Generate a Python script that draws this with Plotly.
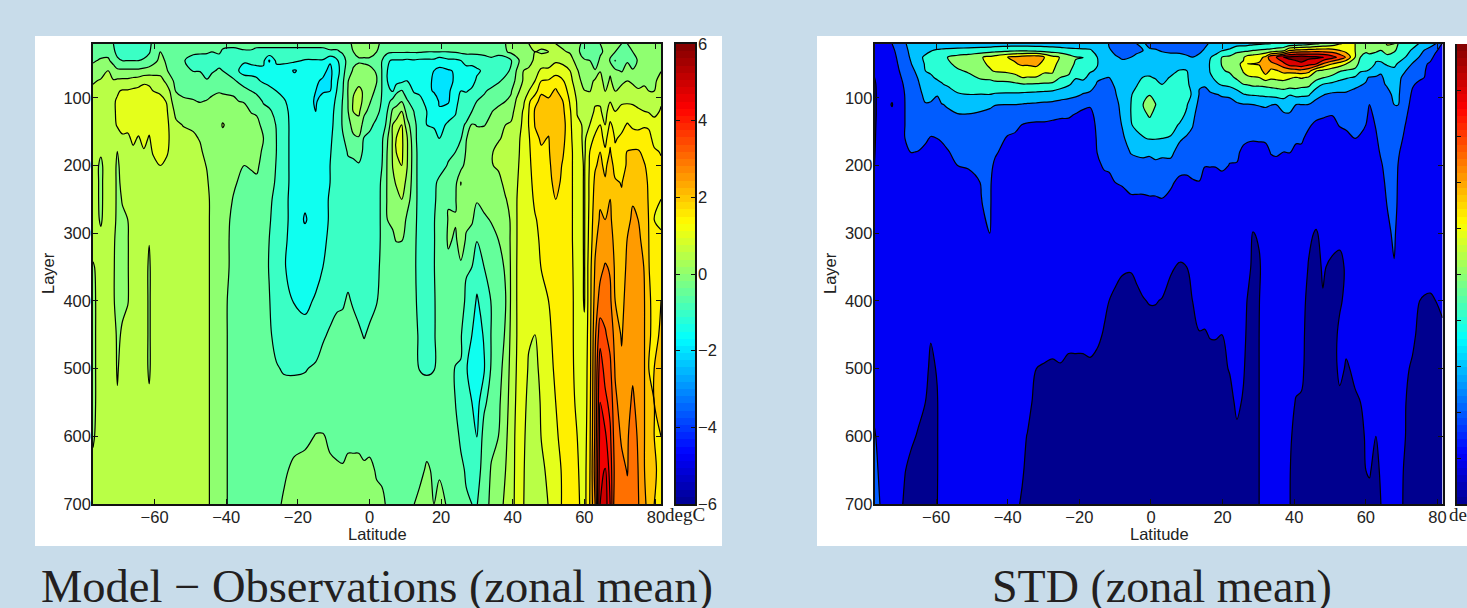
import plotly.graph_objects as go

W, H = 1467, 608

# ---------- left panel: Model - Observations (deg C) ----------
layer_a = [20,32,45,60,75,90,105,120,140,160,180,200,225,250,280,310,350,400,450,500,550,600,650,700]
lat_a = [-77.2,-75,-73,-71.5,-70.4,-69,-67.5,-66,-64.5,-63,-61.5,-60.4,-58.4,-56.6,-54,-52,-49.2,-47.3,-45.4,-44,-42,-41,-38,-35,-33,-31.5,-29.6,-28,-26,-24,-21,-18,-15,-13,-11,-9,-7.5,-6,-4.5,-3,-1.5,0,2,3.5,5,6.5,7.5,9,10.5,12.5,14,16,18,19.5,22,24,25.5,27,28.6,30,32,34,36,38,39.5,41,43,44.5,46.2,48,50,52,54,56,58,60,61.5,63,64.4,65.8,67.2,68.6,70.4,72,73.5,75,76.8,78,79.5,81.4]
z_a_cols = [
[-.2,-.15,-.05,.15,.45,.6,.65,.65,.7,.7,.7,.7,.7,.7,.7,.7,.45,.4,.4,.4,.4,.45,.6,.7],
[-.2,-.15,.05,.3,.55,.65,.7,.7,.75,.75,.55,.42,.42,.42,.45,.6,.7,.7,.7,.7,.7,.7,.7,.7],
[-.1,-.1,.05,.5,.7,.8,.85,.9,.9,.85,.8,.75,.75,.75,.75,.75,.75,.75,.75,.75,.75,.75,.75,.75],
[-.5,-.4,-.1,.15,.55,.8,.95,.95,.95,.9,.75,.7,.7,.7,.65,.55,.53,.53,.7,.72,.75,.75,.75,.75],
[-.7,-.65,-.4,.1,.6,.95,1.05,1.05,1.02,.9,.48,.4,.4,.4,.4,.4,.4,.4,.42,.45,.55,.7,.72,.75],
[-.7,-.65,-.5,.1,.62,1.05,1.15,1.15,1.1,.95,.8,.7,.6,.52,.45,.42,.42,.42,.55,.7,.72,.75,.75,.75],
[-.7,-.65,-.5,.1,.62,1.05,1.2,1.2,1.15,.9,.8,.75,.75,.7,.5,.47,.47,.47,.7,.75,.75,.75,.75,.75],
[-.75,-.7,-.5,.1,.7,1.1,1.2,1.2,1.2,1.1,.9,.8,.75,.75,.75,.75,.75,.75,.75,.75,.75,.75,.75,.75],
[-.75,-.7,-.5,.1,.75,1.15,1.25,1.25,1.2,.95,.85,.8,.75,.75,.75,.75,.75,.75,.75,.75,.75,.75,.75,.75],
[-.75,-.65,-.45,.15,.9,1.2,1.25,1.25,1.2,1.15,.95,.85,.75,.75,.75,.75,.75,.75,.75,.75,.75,.75,.75,.75],
[-.6,-.55,-.3,.2,.9,1.1,1.2,1.25,1.15,.95,.85,.8,.75,.7,.7,.52,.42,.42,.42,.42,.6,.7,.75,.75],
[-.4,-.3,-.15,.25,.8,1.0,1.15,1.25,1.25,1.2,1.05,.85,.75,.75,.75,.75,.75,.75,.75,.75,.75,.75,.75,.75],
[-.05,.0,.1,.3,.7,.95,1.1,1.2,1.25,1.2,1.15,1.0,.8,.75,.75,.75,.75,.75,.75,.75,.75,.75,.75,.75],
[-.1,-.1,-.05,.02,.35,.75,.98,1.05,1.1,1.1,1.05,.9,.75,.75,.75,.75,.75,.75,.75,.75,.75,.75,.75,.75],
[-.15,-.15,-.2,-.2,-.15,-.02,.1,.35,.6,.7,.7,.7,.7,.7,.7,.7,.7,.7,.7,.7,.7,.7,.7,.7],
[-.2,-.4,-.48,-.3,-.2,-.08,.05,.3,.48,.65,.7,.7,.7,.7,.7,.7,.7,.7,.7,.7,.7,.7,.7,.7],
[-.3,-.45,-.6,-.52,-.3,-.1,.02,.25,.45,.55,.65,.7,.7,.7,.7,.7,.7,.7,.7,.7,.7,.7,.7,.7],
[-.3,-.45,-.65,-.52,-.3,-.12,-.02,.15,.35,.48,.55,.62,.7,.7,.7,.7,.7,.7,.7,.7,.7,.7,.7,.7],
[-.3,-.45,-.7,-.6,-.48,-.15,.02,.15,.3,.35,.4,.48,.55,.65,.65,.65,.65,.65,.65,.65,.65,.65,.65,.65],
[-.3,-.5,-.7,-.55,-.35,-.05,.05,.15,.25,.3,.3,.3,.35,.35,.35,.35,.35,.35,.35,.35,.35,.35,.35,.35],
[-.3,-.45,-.65,-.45,-.2,-.02,.1,.2,.3,.35,.35,.3,.3,.3,.3,.3,.3,.3,.3,.3,.3,.3,.3,.3],
[-.4,-.55,-.75,-.5,-.3,-.02,.05,.2,.55,.3,.3,.25,.2,.2,.2,.15,.15,.15,.15,.15,.15,.15,.15,.15],
[-.4,-.6,-1.0,-.85,-.4,-.02,.02,.12,.2,.2,.15,.1,.05,-.02,-.1,-.1,-.1,-.2,-.2,-.2,-.2,-.2,-.2,-.2],
[-.35,-.55,-.95,-1.15,-.8,-.3,-.02,.1,.2,.2,.12,.0,-.1,-.15,-.2,-.2,-.2,-.2,-.2,-.2,-.2,-.2,-.2,-.2],
[-.35,-.55,-.9,-1.15,-.85,-.5,-.25,-.02,.15,.2,.15,.02,-.05,-.2,-.2,-.2,-.2,-.2,-.2,-.2,-.2,-.2,-.2,-.2],
[-.4,-.6,-.9,-1.1,-.95,-.6,-.3,-.05,.1,.15,.1,.05,-.05,-.2,-.2,-.25,-.3,-.3,-.3,-.3,-.2,-.2,-.2,-.2],
[-.4,-.6,-.9,-1.1,-1.05,-.8,-.55,-.35,-.1,0,-.05,-.1,-.2,-.25,-.3,-.35,-.35,-.35,-.3,-.25,-.2,-.2,-.2,-.2],
[-.4,-.6,-1.55,-1.2,-1.1,-.9,-.6,-.45,-.3,-.25,-.25,-.3,-.35,-.4,-.45,-.5,-.52,-.48,-.4,-.3,-.2,-.2,-.2,-.15],
[-.4,-.6,-.9,-1.2,-1.15,-1.0,-.8,-.6,-.52,-.5,-.5,-.52,-.55,-.65,-.7,-.7,-.7,-.7,-.7,-.45,-.25,-.2,-.1,-.1],
[-.4,-.6,-.9,-1.2,-1.2,-1.1,-.95,-.85,-.8,-.8,-.8,-.8,-.8,-.85,-.85,-.9,-.95,-.85,-.7,-.55,-.25,-.2,-.08,.05],
[-.4,-.6,-.9,-1.55,-1.3,-1.25,-1.2,-1.2,-1.2,-1.2,-1.2,-1.2,-1.2,-1.2,-1.2,-1.2,-1.2,-1.02,-.85,-.55,-.3,-.15,.1,.2],
[-.4,-.6,-1.05,-1.3,-1.35,-1.35,-1.3,-1.3,-1.3,-1.3,-1.3,-1.3,-1.35,-1.4,-1.55,-1.3,-1.25,-1.1,-.85,-.52,-.35,-.1,.15,.2],
[-.4,-.6,-1.05,-1.35,-1.45,-1.5,-1.55,-1.5,-1.3,-1.3,-1.3,-1.25,-1.25,-1.25,-1.25,-1.2,-1.15,-.95,-.7,-.45,-.25,.02,.15,.2],
[-.4,-.6,-1.05,-1.4,-1.55,-1.55,-1.3,-1.25,-1.2,-1.2,-1.2,-1.2,-1.2,-1.15,-1.15,-1.1,-1.0,-.85,-.55,-.35,-.2,.02,.15,.2],
[-.35,-.55,-1.45,-1.6,-1.6,-1.5,-1.2,-1.15,-1.1,-1.05,-1.02,-1,-1,-.95,-.95,-.9,-.85,-.65,-.45,-.3,-.15,-.05,.05,.15],
[-.35,-.55,-1.05,-1.2,-1.05,-.95,-.9,-.85,-.85,-.85,-.85,-.85,-.85,-.85,-.8,-.8,-.75,-.55,-.4,-.3,-.15,-.05,.02,.12],
[-.3,-.45,-.7,-.7,-.6,-.55,-.48,-.45,-.45,-.55,-.6,-.65,-.7,-.7,-.7,-.7,-.7,-.55,-.35,-.25,-.15,-.08,.02,.12],
[-.15,-.3,-.35,-.2,-.02,.02,.0,-.02,-.2,-.35,-.48,-.55,-.65,-.7,-.7,-.7,-.65,-.45,-.4,-.25,-.15,-.05,.05,.12],
[.1,0,-.1,.05,.3,.45,.55,.52,.2,-.1,-.45,-.55,-.65,-.7,-.7,-.7,-.7,-.55,-.35,-.25,-.15,-.05,.05,.12],
[.25,.1,-.05,.15,.4,.58,.65,.6,.3,-.05,-.3,-.55,-.65,-.7,-.7,-.7,-.7,-.6,-.45,-.3,-.15,-.05,.05,.15],
[.3,.1,-.05,.1,.3,.45,.4,.1,-.2,-.55,-.6,-.65,-.7,-.7,-.7,-.7,-.7,-.65,-.52,-.35,-.15,-.05,.02,.12],
[.3,.1,-.05,.05,.25,.2,.05,-.1,-.4,-.6,-.65,-.65,-.7,-.7,-.7,-.7,-.7,-.6,-.45,-.3,-.2,-.08,.05,.12],
[.1,0,-.05,-.02,.02,-.1,-.25,-.4,-.6,-.7,-.7,-.7,-.7,-.7,-.7,-.7,-.6,-.52,-.35,-.2,-.15,-.05,-.02,.05],
[-.1,-.25,-.5,-.52,-.52,-.52,-.55,-.6,-.6,-.58,-.55,-.5,-.42,-.4,-.4,-.4,-.4,-.35,-.25,-.18,-.12,-.08,-.03,.03],
[-.2,-.4,-.95,-1.0,-1.0,-.85,-.7,-.5,-.45,-.05,.03,.05,.05,.05,.0,-.1,-.2,-.2,-.2,-.15,-.1,-.08,-.05,-.02],
[-.2,-.45,-1.05,-1.2,-1.2,-1.05,-.3,.1,.52,.55,.55,.52,.4,.2,.05,-.05,-.2,-.2,-.2,-.15,-.1,-.08,-.05,-.02],
[-.2,-.45,-1.05,-1.25,-1.2,-.6,-.2,.2,.7,1.02,1.02,.7,.55,.35,.2,.02,-.3,-.25,-.2,-.15,-.1,-.08,-.05,-.02],
[-.2,-.45,-1.05,-1.25,-1.1,-.45,-.02,.5,1.0,1.1,1.1,1.0,.7,.5,.3,.02,-.25,-.25,-.2,-.15,-.1,-.08,-.05,-.02],
[-.2,-.45,-1.1,-1.15,-1.0,-.75,-.45,-.2,.2,.55,.55,.52,.4,.2,-.1,-.3,-.35,-.3,-.25,-.2,-.15,-.1,-.05,0],
[-.2,-.45,-1.05,-1.3,-1.2,-1.05,-.75,-.52,-.42,-.4,-.3,-.3,-.3,-.3,-.35,-.4,-.42,-.4,-.3,-.2,-.15,-.1,-.05,0],
[-.2,-.45,-1.1,-1.3,-1.2,-1.1,-.85,-.7,-.65,-.65,-.7,-.7,-.7,-.7,-.7,-.7,-.7,-.65,-.6,-.52,-.3,-.2,-.1,.1],
[-.2,-.5,-1.1,-1.4,-1.4,-1.35,-1.15,-1.0,-1.0,-.85,-.75,-.75,-.75,-.75,-.75,-.75,-.75,-.7,-.65,-.55,-.3,-.15,.05,.1],
[-.2,-.5,-1.1,-1.5,-1.55,-1.55,-1.2,-1.1,-1.05,-.85,-.7,-.65,-.55,-.55,-.52,-.52,-.52,-.55,-.55,-.52,-.3,-.15,-.05,0],
[-.2,-.5,-1.3,-1.6,-1.7,-1.6,-1.55,-1.45,-1.2,-1.0,-.75,-.6,-.45,-.4,-.35,-.35,-.3,-.3,-.3,-.3,-.2,-.1,-.02,.05],
[-.2,-.5,-1.1,-1.55,-1.7,-1.6,-1.55,-1.3,-.9,-.7,-.55,-.48,-.02,-.02,.02,.05,-.1,-.2,-.2,-.25,-.2,-.15,-.1,-.02],
[-.15,-.45,-1.1,-1.45,-1.4,-1.2,-1.15,-1.05,-.85,-.65,-.5,-.35,-.15,-.05,.03,-.05,-.2,-.25,-.4,-.52,-.5,-.35,-.25,-.15],
[-.15,-.4,-1.0,-1.3,-1.2,-1.0,-.85,-.7,-.6,-.52,-.4,-.2,.51,.45,.2,.15,-.05,-.25,-.45,-.52,-.55,-.58,-.4,-.3],
[-.15,-.35,-.9,-1.1,-1.15,-1.02,-.85,-.7,-.45,-.02,.05,.2,.25,.2,.05,-.03,-.45,-.6,-.85,-.98,-.9,-.7,-.55,-.45],
[-.15,-.35,-.9,-1.1,-1.1,-.95,-.7,-.5,.05,.2,.3,.3,.3,.2,.03,-.1,-.5,-.8,-1.0,-1.1,-1.0,-.85,-.65,-.5],
[-.15,-.35,-.85,-1.05,-.95,-.8,-.5,-.3,-.02,.15,.3,.35,.3,.02,-.1,-.48,-.8,-1.05,-1.25,-1.35,-1.2,-1.02,-.75,-.52],
[-.15,-.3,-.8,-.95,-.85,-.55,-.4,-.1,-.02,.2,.35,.35,.3,.1,-.05,-.2,-.5,-.8,-.95,-1.05,-.6,-.3,-.25,-.2],
[-.1,-.25,-.65,-.85,-.7,-.4,-.3,-.02,.1,.2,.45,.48,.3,.1,.02,-.1,-.3,-.48,-.48,-.45,-.3,-.1,.03,.1],
[-.05,-.2,-.95,-1,-.55,-.3,-.1,.1,.2,.45,.65,.55,.4,.2,.05,0,-.15,-.25,-.25,-.2,-.1,0,.2,.4],
[0,-.05,-.85,-.6,-.4,-.2,0,.3,.5,.6,.7,.65,.6,.48,.3,.25,.05,-.02,.05,.2,.3,.4,.5,.55],
[.1,.1,-.55,-.45,-.25,-.05,.1,.35,.55,.65,.75,.75,.72,.6,.55,.55,.55,.55,.6,.65,.7,.75,.8,.85],
[.2,.25,-.2,0,.1,.35,.55,.65,.75,.8,.85,.9,.95,.98,.98,.98,.98,.98,.98,1,1.05,1.1,1.1,1.1],
[.4,.3,.3,.5,.55,.7,.9,1.05,1.1,1.2,1.2,1.2,1.2,1.2,1.2,1.2,1.3,1.3,1.25,1.2,1.15,1.1,1.05,1.02],
[.5,.45,.4,.55,.8,1.0,1.4,1.5,1.52,1.45,1.4,1.35,1.3,1.25,1.2,1.15,1.15,1.1,1.05,.95,.85,.75,.7,.7],
[.6,.5,.55,.8,1.0,1.25,1.9,2.05,2.02,1.9,1.85,1.8,1.7,1.6,1.45,1.35,1.25,1.1,1.0,.9,.8,.7,.65,.6],
[.6,.45,.7,1.1,1.5,1.95,2.1,2.15,2.15,2.05,1.95,1.9,1.8,1.7,1.65,1.6,1.52,1.35,1.2,1.1,1.05,1.02,.9,.75],
[.55,.5,.75,1.1,1.55,1.9,2.05,2.15,2.1,1.98,1.95,1.9,1.85,1.8,1.75,1.7,1.6,1.5,1.4,1.3,1.2,1.15,1.1,1.02],
[.5,.55,.95,1.2,1.85,2.05,2.2,2.25,2.3,2.3,2.3,2.25,2.15,2.0,1.9,1.85,1.8,1.7,1.65,1.6,1.5,1.45,1.35,1.3],
[.4,.55,.9,1.15,1.55,1.8,2.0,2.1,2.2,2.15,2.05,1.95,1.9,1.8,1.75,1.7,1.7,1.7,1.65,1.6,1.6,1.6,1.55,1.55],
[.3,.45,.7,1.0,1.15,1.3,1.45,1.55,1.6,1.6,1.6,1.6,1.6,1.6,1.6,1.6,1.6,1.6,1.6,1.6,1.6,1.6,1.6,1.55],
[.1,.05,.3,.55,.7,.85,.95,.98,1.05,1.2,1.3,1.3,1.3,1.3,1.3,1.3,1.35,1.38,1.38,1.4,1.45,1.5,1.55,1.6],
[-.1,-.1,.02,.15,.3,.52,.7,.85,.97,.9,.9,.95,.95,.95,.95,.95,.95,.95,1.1,1.2,1.2,1.25,1.3,1.3],
[-.2,-.15,.0,.15,.3,.48,.65,.85,1.0,1.3,1.5,1.55,1.6,1.6,1.65,1.7,1.8,1.8,1.8,1.8,1.85,1.9,1.95,2.0],
[-.2,-.25,-.15,.02,.6,.8,.95,1.05,1.3,1.6,1.7,1.95,2.1,2.2,2.3,2.4,2.55,2.7,2.9,3.0,3.05,3.1,3.2,3.0],
[0,-.05,.05,.48,.65,.85,.95,1.05,1.5,1.75,2.0,2.1,2.3,2.45,2.55,2.7,2.85,3.2,3.8,4.3,4.5,4.7,4.8,5.0],
[.05,.05,.1,.2,.35,.48,.65,.85,1.0,1.3,1.6,1.9,2.05,2.25,2.5,2.7,3.05,3.3,3.55,3.8,4.15,4.6,5.05,5.3],
[.1,.05,-.02,.45,.55,.75,.98,1.2,1.6,1.9,2.05,2.2,2.35,2.5,2.6,2.75,2.95,3.1,3.35,3.6,3.85,4.1,4.3,4.5],
[.05,0,-.52,.1,.35,.48,.75,1.0,1.3,1.45,1.6,1.85,2.05,2.1,2.2,2.3,2.4,2.5,2.8,2.95,3.1,3.2,3.3,3.1],
[0,-.05,-.15,-.05,.4,.65,.95,1.1,1.35,1.6,1.75,1.85,1.98,2.05,2.05,2.15,2.25,2.35,2.45,2.6,2.8,2.95,3.1,3.2],
[0,0,-.05,.2,.5,.75,.95,1.15,1.55,1.85,2.02,2.05,2.15,2.25,2.35,2.52,2.6,2.7,2.8,2.85,2.9,2.95,2.98,3.1],
[.05,0,-.1,.02,.45,.6,.95,1.1,1.4,1.75,2.05,2.2,2.3,2.45,2.6,2.65,2.7,2.8,2.9,2.95,3.05,3.2,3.2,3.2],
[.1,.1,.02,.15,.35,.55,.9,1.05,1.35,1.75,2.05,2.15,2.25,2.4,2.5,2.6,2.65,2.7,2.8,2.85,2.9,2.95,3.0,3.05],
[.15,.2,.2,.25,.4,.6,.85,1.0,1.45,1.7,1.9,2.02,2.1,2.2,2.3,2.35,2.48,2.5,2.5,2.5,2.5,2.5,2.5,2.55],
[.2,.2,.25,.3,.4,.5,.7,.95,1.45,1.6,1.8,1.9,1.95,1.95,1.98,2.0,2.02,2.1,2.05,2.0,2.1,2.2,2.3,2.4],
[.25,.25,.25,.3,.4,.5,.7,.85,1.2,1.4,1.55,1.6,1.55,1.55,1.5,1.55,1.7,1.8,1.9,2.0,2.0,2.0,2.05,2.0],
[.25,.25,.3,.48,.7,.85,.95,1.05,1.25,1.4,1.48,1.55,1.52,1.5,1.45,1.55,1.7,2.0,2.05,2.05,2.02,2,1.9,1.5],
]

# ---------- right panel: STD (contour level units) ----------
layer_b = [20,30,40,50,60,70,80,95,110,125,140,160,180,200,225,260,300,350,400,450,500,550,600,650,700]
lat_b = [-77.2,-75.5,-72.3,-70.5,-68.7,-67,-65,-63,-61.5,-59.7,-58.5,-56.8,-54,-51,-47.4,-45,-43.5,-40,-38,-36,-34.5,-32,-29.8,-27.5,-25.3,-23,-21,-19,-17,-15,-13,-11.7,-10,-8,-5.6,-4,-2.2,-.4,1.2,3.1,5.5,8,10,11.6,13.5,15,16.5,18,19.8,22,24,25.8,27,28.5,30.2,32,33.5,35,37,38.7,40.5,42,44,46.1,48,50.6,52.7,54.5,57,58.5,60,61,62.8,64.2,65.9,67.9,69,71.2,73,75,76.3,78,79.5,81.4]
z_b_cols = [
[1.4,1.4,1.4,1.3,1.2,1.0,.85,.8,.8,.8,.85,.9,.95,1.0,1.1,1.2,1.3,1.4,1.4,1.3,1.3,1.7,2.1,2.4,2.8],
[1.5,1.5,1.5,1.5,1.5,1.5,1.5,1.5,1.5,1.5,1.5,1.5,1.5,1.5,1.5,1.5,1.5,1.5,1.5,1.5,1.5,1.5,1.6,1.7,1.9],
[2.0,1.8,1.7,1.6,1.5,1.4,1.3,1.2,.95,1.2,1.4,1.45,1.5,1.5,1.5,1.5,1.5,1.5,1.5,1.5,1.5,1.5,1.5,1.5,1.5],
[2.4,2.3,2.15,2.05,1.95,1.85,1.75,1.6,1.5,1.45,1.4,1.4,1.4,1.4,1.4,1.4,1.4,1.4,1.4,1.4,1.4,1.4,1.4,1.4,1.2],
[2.95,2.8,2.7,2.5,2.35,2.2,2.1,2.02,2.0,2.0,2.0,2.0,1.6,1.5,1.5,1.45,1.45,1.4,1.4,1.4,1.35,1.3,1.2,1.02,.9],
[3.2,3.2,3.1,2.97,2.75,2.6,2.45,2.3,2.25,2.2,2.2,2.2,2.02,1.75,1.6,1.5,1.45,1.4,1.4,1.35,1.3,1.2,1.1,.85,.8],
[3.4,3.6,3.75,3.45,3.25,3.05,2.9,2.75,2.6,2.5,2.4,2.25,1.98,1.8,1.6,1.5,1.45,1.4,1.4,1.35,1.2,1.15,.95,.85,.8],
[3.5,3.75,4.15,4.1,4.0,3.7,3.5,3.2,2.95,2.75,2.55,2.1,1.85,1.7,1.65,1.5,1.45,1.4,1.4,1.3,1.2,1.0,.85,.8,.75],
[3.5,3.95,4.3,4.25,4.1,3.9,3.55,3.25,2.9,2.6,2.3,1.95,1.8,1.7,1.6,1.5,1.45,1.35,1.2,1.05,.85,.8,.8,.8,.8],
[3.45,4.1,4.4,4.35,4.3,4.1,3.8,3.05,2.75,2.55,2.3,2,1.75,1.65,1.6,1.5,1.45,1.4,1.35,1.3,1.05,.95,.95,.95,.98],
[3.45,4.15,4.6,4.55,4.35,4.15,3.95,3.4,2.95,2.65,2.4,2.05,1.85,1.7,1.6,1.5,1.5,1.45,1.45,1.4,1.4,1.35,1.35,1.35,1.35],
[3.45,4.2,5.0,4.85,4.6,4.3,4.1,3.6,3.1,2.8,2.5,2.2,1.95,1.75,1.6,1.5,1.5,1.45,1.4,1.4,1.4,1.4,1.4,1.4,1.4],
[3.5,4.25,5.3,5.2,4.9,4.5,4.25,3.95,3.4,2.95,2.75,2.45,2.2,2.0,1.8,1.6,1.5,1.45,1.4,1.4,1.4,1.4,1.4,1.4,1.4],
[3.5,4.3,5.5,5.5,5.1,4.8,4.5,4.0,3.5,2.95,2.7,2.5,2.25,2.05,1.8,1.6,1.5,1.45,1.4,1.4,1.4,1.4,1.4,1.4,1.4],
[3.5,4.4,5.95,5.8,5.5,5.1,4.7,3.98,3.2,2.9,2.75,2.55,2.35,2.2,2.02,1.98,1.7,1.5,1.45,1.4,1.4,1.4,1.4,1.4,1.4],
[3.5,4.5,6.2,6.15,5.9,5.1,4.8,4.0,3.1,2.85,2.7,2.55,2.35,2.2,2.1,2.1,2.0,1.6,1.5,1.45,1.4,1.3,1.2,1.15,1.1],
[3.55,4.6,6.4,6.3,6.1,5.3,4.75,3.9,3.02,2.75,2.6,2.4,2.1,1.85,1.7,1.6,1.5,1.4,1.35,1.35,1.3,1.2,1.15,1.1,1.1],
[3.55,4.7,7.0,6.6,6.3,5.3,4.8,3.85,3.0,2.7,2.35,1.9,1.7,1.6,1.5,1.45,1.4,1.4,1.35,1.3,1.2,1.2,1.15,1.15,1.15],
[3.55,4.8,7.2,6.9,6.55,5.5,4.85,3.85,3.0,2.45,2.2,1.85,1.65,1.55,1.5,1.45,1.4,1.4,1.35,1.3,1.2,1.2,1.15,1.15,1.1],
[3.55,4.8,7.4,7.15,6.5,6.0,4.95,3.8,2.95,2.5,1.98,1.7,1.55,1.5,1.45,1.4,1.4,1.35,1.3,1.25,1.2,1.15,1.1,1.05,.95],
[3.55,4.8,7.5,7.1,6.6,5.95,4.95,3.75,2.9,2.4,1.9,1.6,1.5,1.45,1.4,1.4,1.35,1.3,1.25,1.2,1.2,1.15,.98,.9,.85],
[3.55,4.7,7.6,7.3,6.5,5.95,4.9,3.7,2.85,2.35,1.85,1.6,1.5,1.45,1.4,1.4,1.35,1.3,1.25,1.1,1.0,.85,.8,.75,.7],
[3.55,4.6,7.0,6.6,6.15,5.7,4.85,3.65,2.8,2.35,1.85,1.6,1.5,1.45,1.4,1.4,1.35,1.3,1.2,1.1,.98,.85,.8,.75,.7],
[3.55,4.5,6.3,6.3,6.1,5.8,4.75,3.6,2.75,2.3,1.75,1.55,1.5,1.45,1.4,1.4,1.35,1.3,1.2,1.05,.98,.85,.8,.75,.7],
[3.5,4.4,5.95,5.7,5.4,5.0,4.4,3.5,2.6,2.15,1.75,1.6,1.5,1.45,1.4,1.35,1.3,1.25,1.2,1.1,.98,.85,.8,.75,.7],
[3.5,4.25,5.4,5.3,5.15,4.9,4.1,3.35,2.5,2.1,1.8,1.6,1.5,1.45,1.4,1.35,1.3,1.25,1.2,1.1,.92,.8,.75,.7,.7],
[3.5,4.2,5.05,4.9,4.65,4.05,3.75,3.2,2.35,1.95,1.75,1.6,1.5,1.45,1.4,1.35,1.3,1.25,1.2,1.1,.92,.8,.75,.7,.7],
[3.5,4.15,5.05,4.75,4.55,4.25,3.6,2.95,2.1,1.9,1.7,1.55,1.5,1.45,1.4,1.35,1.3,1.25,1.2,1.1,.92,.8,.75,.7,.7],
[3.5,4.1,4.4,4.25,4.1,3.7,3.5,2.8,2.1,1.75,1.55,1.45,1.45,1.4,1.4,1.35,1.3,1.25,1.2,1.1,.95,.8,.75,.7,.7],
[3.4,3.7,4.0,4.05,3.9,3.15,2.9,2.6,2.4,2.3,2.2,2.1,2.02,1.85,1.6,1.5,1.4,1.3,1.2,1.1,.85,.8,.75,.7,.7],
[3.4,3.4,3.4,3.4,3.3,3.02,2.85,2.6,2.45,2.35,2.3,2.25,2.2,2.1,1.75,1.55,1.4,1.25,1.1,.95,.8,.75,.7,.7,.7],
[2.95,3.05,3.2,3.2,3.1,3.0,2.9,2.7,2.55,2.45,2.4,2.3,2.25,2.1,1.85,1.6,1.4,1.2,1.0,.85,.8,.75,.7,.7,.7],
[2.8,2.9,3.05,3.2,3.1,3.1,3.05,2.95,2.8,2.7,2.6,2.5,2.4,2.2,2.0,1.75,1.5,1.15,.9,.8,.75,.7,.7,.7,.7],
[2.75,2.8,2.95,3.1,3.2,3.3,3.3,3.3,3.2,3.15,3.05,2.85,2.65,2.4,2.05,1.75,1.45,1.05,.85,.8,.75,.7,.7,.7,.7],
[2.9,2.9,3.0,3.2,3.45,3.6,3.85,3.95,4.0,4.0,3.95,3.4,3.05,2.7,2.2,1.8,1.4,1.03,.85,.8,.75,.7,.7,.7,.7],
[3,2.95,3.05,3.3,3.55,3.75,3.95,4.2,4.25,4.25,4.2,3.75,3.1,2.8,2.15,1.85,1.45,1.1,.9,.8,.75,.7,.7,.7,.7],
[3.1,3,3.2,3.4,3.75,4.02,4.25,4.7,5.0,4.7,4.3,3.95,3.15,2.8,2.2,1.8,1.5,1.15,.98,.85,.75,.7,.7,.7,.7],
[2.8,3.1,3.3,3.5,3.8,4.05,4.3,4.95,5.5,5.15,4.6,4.05,3.1,2.8,2.2,1.85,1.5,1.2,1.02,.85,.75,.7,.7,.7,.7],
[2.8,3.05,3.3,3.5,3.75,3.95,4.2,4.7,5.05,4.7,4.4,4.05,3.2,2.85,2.2,1.85,1.5,1.2,1.02,.85,.75,.7,.7,.7,.7],
[2.7,2.95,3.2,3.4,3.65,3.8,4.0,4.25,4.3,4.3,4.25,4.0,3.15,2.8,2.2,1.9,1.55,1.2,.98,.85,.75,.7,.7,.7,.7],
[2.7,2.9,3.15,3.4,3.8,4.05,4.2,4.4,4.4,4.3,4.2,3.95,3.25,2.7,2.1,1.75,1.4,1.05,.85,.8,.75,.7,.7,.7,.7],
[2.7,2.85,3.2,3.6,4.05,4.25,4.35,4.4,4.35,4.2,3.95,3.15,2.6,2.25,1.85,1.6,1.3,.95,.8,.75,.7,.7,.7,.7,.7],
[2.65,2.75,3.1,3.5,4.02,4.15,4.2,4.15,4.05,3.9,3.5,2.85,2.5,2.2,1.85,1.6,1.35,1.0,.85,.8,.7,.7,.7,.7,.7],
[2.6,2.7,3.0,3.2,3.35,3.5,3.65,3.95,3.6,3.25,3.05,2.75,2.4,2.2,1.95,1.7,1.4,1.1,1.0,.85,.75,.7,.7,.7,.7],
[2.7,2.9,3.1,3.1,3.1,3.1,3.05,2.95,2.7,2.55,2.45,2.35,2.25,2.2,1.98,1.75,1.45,1.25,1.15,.98,.85,.75,.7,.7,.7],
[2.9,3.05,3.2,3.2,3.15,3.1,3.05,2.85,2.6,2.5,2.4,2.3,2.2,2.02,1.8,1.6,1.45,1.3,1.15,.97,.85,.75,.7,.7,.7],
[3.05,3.4,3.95,4.1,4.05,3.85,3.45,2.85,2.55,2.4,2.3,2.25,2.15,2.02,1.8,1.6,1.45,1.3,1.1,1.02,.85,.75,.7,.7,.7],
[3.2,3.7,4.2,4.5,4.3,4.15,3.85,2.95,2.55,2.4,2.3,2.2,2.1,2.02,1.8,1.6,1.4,1.25,1.05,1.02,.88,.75,.7,.7,.7],
[3.4,3.95,5.0,5.05,4.9,4.65,4.1,3.1,2.65,2.45,2.35,2.25,2.15,2.1,1.8,1.6,1.4,1.2,1.02,1.0,.9,.8,.7,.7,.7],
[3.5,4.15,5.2,5.5,5.15,4.7,4.3,3.05,2.9,2.6,2.45,2.3,2.1,1.98,1.75,1.55,1.4,1.25,1.15,1.1,1.03,.85,.8,.75,.7],
[3.55,4.8,5.4,5.9,5.6,5.2,4.5,3.6,2.85,2.6,2.5,2.3,2.15,1.95,1.7,1.5,1.4,1.3,1.2,1.15,1.1,1.1,.9,.85,.8],
[3.6,4.8,5.9,6.1,6.05,5.85,5.0,3.95,2.95,2.65,2.5,2.2,1.8,1.7,1.6,1.5,1.4,1.3,1.25,1.2,1.05,.95,.85,.8,.75],
[3.7,4.8,6.4,7.05,6.3,5.9,5.05,4.05,2.95,2.65,2.4,2.1,1.75,1.6,1.5,1.4,1.3,1.2,.95,.85,.85,.8,.75,.7,.7],
[3.8,5.0,6.5,7.02,6.4,5.95,5.2,4.1,3.0,2.7,2.3,2.05,1.8,1.65,1.5,1.3,.97,.85,.85,.8,.75,.7,.7,.7,.7],
[3.85,5.1,6.7,7.1,6.5,6.0,5.2,4.15,3.05,2.7,2.3,2.05,1.85,1.7,1.55,1.3,1.1,.9,.98,1.0,1.0,1.0,1.0,1.0,1.0],
[3.95,5.2,7.2,8.0,7.5,6.6,5.25,4.25,3.1,2.75,2.45,2.05,1.9,1.8,1.7,1.6,1.5,1.4,1.35,1.3,1.3,1.3,1.3,1.3,1.3],
[4.0,5.3,8.8,7.6,6.8,6.2,5.35,4.3,3.02,2.7,2.45,2.2,2.02,1.9,1.75,1.65,1.55,1.5,1.45,1.4,1.35,1.3,1.25,1.2,1.15],
[4.05,5.5,9.0,8.0,6.9,6.3,5.4,4.4,3.0,2.95,2.5,2.3,2.05,1.9,1.75,1.65,1.6,1.5,1.45,1.4,1.35,1.3,1.25,1.2,1.15],
[4.1,5.7,10.0,8.7,7.3,6.4,5.5,4.5,3.3,2.9,2.5,2.3,2.0,1.9,1.75,1.65,1.6,1.5,1.4,1.35,1.3,1.25,1.2,1.15,1.1],
[4.2,7.0,10.2,9.5,7.4,6.1,5.6,4.05,3.4,2.9,2.55,2.3,2.02,1.85,1.7,1.6,1.5,1.3,1.25,1.2,1.15,1.1,1.05,1.02,1.02],
[4.3,7.2,10.4,9.6,7.6,5.95,5.5,4.3,3.0,2.8,2.55,2.1,1.85,1.7,1.6,1.5,1.45,1.4,1.3,1.2,1.1,.98,.9,.85,.8],
[4.4,7.3,10.5,9.8,7.7,6.1,5.35,4.25,3.0,2.75,2.5,2.1,1.85,1.7,1.6,1.5,1.4,1.3,1.2,1.15,1.1,.95,.8,.8,.8],
[4.6,7.4,10.3,9.3,7.4,5.9,5.25,4.15,2.98,2.6,2.1,1.8,1.7,1.6,1.5,1.3,1.1,.97,.85,.8,.8,.8,.8,.8,.8],
[4.9,7.5,10.2,9.0,6.05,5.35,4.5,3.3,2.7,2.2,1.85,1.7,1.6,1.5,1.4,1.3,.95,.85,.8,.8,.8,.8,.8,.8,.8],
[5.1,7.5,10.05,7.9,5.8,5.05,4.0,3.05,2.6,2.1,1.8,1.7,1.6,1.5,1.4,1.3,1.15,1.05,.97,.85,.8,.8,.8,.8,.8],
[5.4,7.4,9.4,7.0,5.4,4.8,3.75,2.85,2.5,2.02,1.8,1.7,1.6,1.5,1.4,1.3,1.2,.9,.9,.9,.9,.85,.8,.8,.8],
[5.95,7.0,8.7,6.5,5.1,4.3,3.6,2.85,2.5,2.2,2.05,1.7,1.6,1.5,1.4,1.3,1.1,.9,.97,1.05,1.05,.95,.85,.8,.8],
[6.1,6.6,7.9,6.0,4.9,4.1,3.5,2.85,2.45,2.3,2.1,1.85,1.7,1.6,1.5,1.3,1.1,1.05,1.05,1.05,.98,.95,.85,.8,.8],
[6.0,6.0,6.0,5.5,4.7,3.9,3.2,2.7,2.5,2.3,2.15,2.0,1.85,1.7,1.5,1.3,1.15,1.1,1.1,1.03,1.03,.98,.85,.8,.7],
[5.5,5.3,5.0,4.6,4.1,3.5,3.05,2.7,2.5,2.25,2.1,1.95,1.8,1.65,1.5,1.3,1.2,1.15,1.15,1.1,1.05,1.0,.95,.85,.8],
[5.3,5.05,4.9,4.6,4.05,3.1,2.95,2.6,2.3,2.15,2.0,1.85,1.75,1.6,1.5,1.3,1.25,1.2,1.2,1.1,1.1,1.05,1.02,1.0,.9],
[5.5,5.2,4.8,4.5,3.9,2.95,2.7,2.3,2.0,1.85,1.7,1.6,1.55,1.5,1.5,1.3,1.25,1.25,1.2,1.2,1.15,1.1,1.05,1.03,.9],
[5.6,5.3,4.2,3.9,3.5,2.9,2.7,2.5,2.35,2.15,2.05,1.9,1.75,1.65,1.5,1.4,1.35,1.3,1.25,1.2,1.15,1.05,1.0,.9,.9],
[5.3,5,4.3,3.85,3.05,2.95,2.9,2.75,2.6,2.5,2.35,2.25,2.1,1.9,1.7,1.5,1.4,1.35,1.3,1.3,1.25,1.2,1.1,1.05,1.0],
[6.1,5.6,4.6,4.1,3.6,3.1,3.05,2.85,2.75,2.7,2.65,2.55,2.4,2.3,2.2,2.0,1.8,1.5,1.4,1.35,1.3,1.3,1.3,1.3,1.25],
[6.05,5.2,4.4,4.1,3.9,3.4,3.2,3.1,3.0,2.9,2.8,2.7,2.6,2.5,2.45,2.35,2.15,1.95,1.5,1.35,1.3,1.3,1.3,1.3,1.3],
[5.0,4.7,4.25,3.95,3.3,3.2,3.15,3.1,3.02,2.7,2.5,2.35,2.1,1.98,1.9,1.85,1.7,1.5,1.4,1.35,1.3,1.3,1.3,1.3,1.3],
[4.6,4.25,3.98,3.4,3.0,2.7,2.6,2.5,2.3,2.1,1.95,1.75,1.6,1.5,1.45,1.4,1.35,1.25,1.2,1.1,1.05,1.0,.98,.85,.8],
[4.3,3.9,3.4,2.95,2.7,2.4,2.1,1.85,1.7,1.6,1.55,1.5,1.5,1.45,1.4,1.3,1.25,1.2,1.15,1.08,.95,.85,.8,.8,.8],
[3.95,3.5,2.95,2.8,2.5,2.15,1.8,1.6,1.55,1.5,1.5,1.45,1.45,1.4,1.35,1.3,1.25,1.2,1.0,.9,.8,.8,.8,.8,.8],
[3.4,2.98,2.5,2.1,2.05,2.0,1.7,1.6,1.55,1.5,1.5,1.45,1.4,1.4,1.3,1.25,1.2,1.1,.98,.85,.8,.8,.8,.8,.8],
[3.2,2.8,2.2,1.9,1.8,1.7,1.6,1.55,1.5,1.5,1.45,1.4,1.4,1.35,1.3,1.25,1.2,1.1,.97,.85,.8,.8,.8,.8,.8],
[3.0,2.1,1.8,1.7,1.6,1.55,1.5,1.5,1.5,1.45,1.4,1.4,1.35,1.3,1.25,1.2,1.15,1.1,1.0,.95,.85,.8,.8,.8,.8],
[1.9,1.7,1.6,1.55,1.5,1.5,1.5,1.5,1.45,1.4,1.4,1.35,1.3,1.3,1.25,1.2,1.15,1.05,1.02,.98,.9,.85,.8,.8,.8],
]

x_ticks = [-60,-40,-20,0,20,40,60,80]
x_tick_text = ["\u221260","\u221240","\u221220","0","20","40","60","80"]
y_ticks = [100,200,300,400,500,600,700]
cbar_a_ticks = [-6,-4,-2,0,2,4,6]
cbar_a_labels = ["\u22126","\u22124","\u22122","0","2","4","6"]
titles = ["Model \u2212 Observations (zonal mean)", "STD (zonal mean)"]
unit = "degC"

JET = [[0,"rgb(0,0,143)"],[.11,"rgb(0,0,255)"],[.36,"rgb(0,255,255)"],[.61,"rgb(255,255,0)"],[.86,"rgb(255,0,0)"],[1,"rgb(128,0,0)"]]
# filled contours stretch the colour map over start-size/2 .. end+size/2; this lines the left map up with -5.75 .. 6.25
JET_A = [[0, JET[0][1]]] + [[(12 * p + .5) / 12.5, c] for p, c in JET]
BG = "#c8dcea"
INK = "#222222"
SANS = "Liberation Sans, Arial, sans-serif"
SERIF = "Liberation Serif, Times New Roman, serif"

assert len(lat_a) == len(z_a_cols), (len(lat_a), len(z_a_cols))
assert len(lat_b) == len(z_b_cols), (len(lat_b), len(z_b_cols))
z_a = [list(r) for r in zip(*z_a_cols, strict=True)]
z_b = [list(r) for r in zip(*z_b_cols, strict=True)]

def fx(p): return p / W
def fy(p): return 1 - p / H

fig = go.Figure()
line = dict(color="#000000", width=1.2)
fig.add_trace(go.Contour(x=lat_a, y=layer_a, z=z_a, xaxis="x", yaxis="y", colorscale=JET_A,
    showscale=False, line=line, contours=dict(coloring="fill", start=-6, end=6, size=.5, showlines=True),
    hoverinfo="skip"))
fig.add_trace(go.Contour(x=lat_b, y=layer_b, z=z_b, xaxis="x2", yaxis="y2", colorscale=JET,
    showscale=False, line=line, contours=dict(coloring="fill", start=1, end=10, size=1, showlines=True),
    hoverinfo="skip"))

# colour bars: 64 bands of the same map
bands_a = [-6 + (i + .5) * 12 / 64 for i in range(64)]
bands_b = [0 + (i + .5) * 10 / 64 for i in range(64)]
fig.add_trace(go.Heatmap(x=[0, 1], y=bands_a, z=[[v, v] for v in bands_a], xaxis="x3", yaxis="y3", colorscale=JET,
    zmin=-6, zmax=6, showscale=False, hoverinfo="skip"))
fig.add_trace(go.Heatmap(x=[0, 1], y=bands_b, z=[[v, v] for v in bands_b], xaxis="x4", yaxis="y4", colorscale=JET,
    zmin=0, zmax=10, showscale=False, hoverinfo="skip"))

tick_font = dict(family=SANS, size=16.5, color=INK)
def ax(**k):
    d = dict(automargin=False, showgrid=False, zeroline=False, showline=True, linecolor="#111111", linewidth=1.5, mirror="ticks",
             ticks="inside", ticklen=5, tickcolor="#111111", tickwidth=1, tickfont=tick_font, layer="above traces",
             ticklabelstandoff=-3)
    d.update(k)
    return d

LAT_RANGE = [-77.2, 81.4]
LAY_RANGE = [700, 20.5]
fig.update_layout(
    width=W, height=H, margin=dict(l=0, r=0, t=0, b=0, pad=0), paper_bgcolor=BG, plot_bgcolor="white", showlegend=False,
    xaxis=ax(domain=[fx(93), fx(661)], range=LAT_RANGE, tickvals=x_ticks, ticktext=x_tick_text, anchor="y"),
    yaxis=ax(domain=[fy(504), fy(44)], range=LAY_RANGE, tickvals=y_ticks, anchor="x"),
    xaxis2=ax(domain=[fx(874.5), fx(1442.5)], range=LAT_RANGE, tickvals=x_ticks, ticktext=x_tick_text, anchor="y2"),
    yaxis2=ax(domain=[fy(504), fy(44)], range=LAY_RANGE, tickvals=y_ticks, anchor="x2"),
    xaxis3=ax(domain=[fx(676), fx(695)], range=[0, 1], showticklabels=False, ticks="", anchor="y3"),
    yaxis3=ax(domain=[fy(504), fy(44)], range=[-6, 6], side="right", tickvals=cbar_a_ticks, ticktext=cbar_a_labels, ticklen=4, anchor="x3", ticklabelstandoff=-2),
    xaxis4=ax(domain=[fx(1457), 1], range=[0, 10 / 19], showticklabels=False, ticks="", anchor="y4", mirror=False),
    yaxis4=ax(domain=[fy(504), fy(44)], range=[0, 10], tickvals=[i for i in range(11)], showticklabels=False, ticklen=4, anchor="x4", mirror=False),
    shapes=[
        dict(type="rect", xref="paper", yref="paper", x0=fx(35), x1=fx(722), y0=fy(546), y1=fy(36), fillcolor="white", line_width=0, layer="below"),
        dict(type="rect", xref="paper", yref="paper", x0=fx(817), x1=1, y0=fy(546), y1=fy(36), fillcolor="white", line_width=0, layer="below"),
    ],
)

def note(text, px, py, size, family=SANS, angle=0, color=INK, xanchor="center"):
    fig.add_annotation(text=text, xref="paper", yref="paper", x=fx(px), y=fy(py), showarrow=False, xanchor=xanchor,
                       yanchor="middle", textangle=angle, font=dict(family=family, size=size, color=color))

note("Latitude", 377, 533.5, 16.5)
note("Latitude", 1159, 533.5, 16.5)
note("Layer", 48, 273, 16.5, angle=-90)
note("Layer", 830, 273, 16.5, angle=-90)
note(unit, 685, 514, 19, family=SERIF)
note(unit, 1447, 514, 19, family=SERIF, xanchor="left")
note(titles[0], 377, 586, 46.5, family=SERIF, color="#231f20")
note(titles[1], 1162, 586, 46, family=SERIF, color="#231f20")

fig.write_html("out.html", config=dict(displayModeBar=False), post_script="document.body.style.margin='0';document.body.style.overflow='hidden';")
